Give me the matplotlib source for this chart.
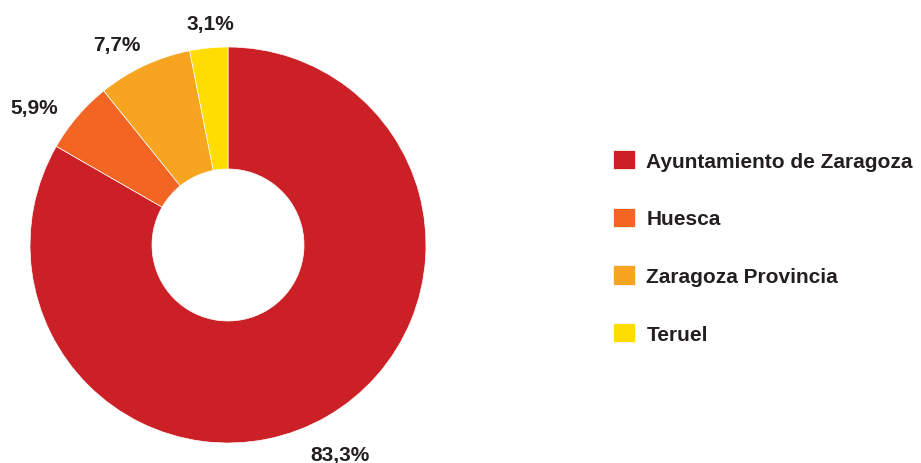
import numpy as np
import matplotlib.pyplot as plt

# data
categories = ["Ayuntamiento de Zaragoza", "Huesca", "Zaragoza Provincia", "Teruel"]
values = [83.3, 5.9, 7.7, 3.1]
pct_labels = ["83,3%", "5,9%", "7,7%", "3,1%"]
colors = ["#CC2027", "#F26522", "#F7A520", "#FFDD00"]

plt.rcParams['font.family'] = ['Liberation Sans', 'DejaVu Sans']
text_color = "#231F20"

fig = plt.figure(figsize=(9.21, 4.64), dpi=100)
W, H = 921, 464
cx, cy, r = 228, 246, 198
ax = fig.add_axes([(cx - r) / W, (H - cy - r) / H, 2 * r / W, 2 * r / H])

wedges, _ = ax.pie(values, colors=colors, startangle=90, counterclock=False,
                   wedgeprops=dict(width=1 - 76 / 198, edgecolor="white", linewidth=0.5))

# label distance per slice (labels sit slightly off the wedge middle)
label_dist = [1.2, 1.2, 1.16, 1.12]
label_shift = [-2, 5, 4, -1]  # degrees
for w, lab, d, s in zip(wedges, pct_labels, label_dist, label_shift):
    ang = np.deg2rad((w.theta1 + w.theta2) / 2 + s)
    ax.text(d * np.cos(ang), d * np.sin(ang), lab, ha="center", va="center",
            fontsize=15, fontweight="bold", color=text_color)

ax.set_xlim(-1, 1)
ax.set_ylim(-1, 1)
ax.set_aspect("equal")

fig.legend(wedges, categories, loc="upper left",
           bbox_to_anchor=(613 / W, 1 - 151 / H), frameon=False,
           prop=dict(size=15, weight="bold"), labelcolor=text_color,
           handlelength=1.05, handleheight=1.05, handletextpad=0.55,
           labelspacing=1.77, borderpad=0, borderaxespad=0)

fig.savefig("out.png", dpi=100)
